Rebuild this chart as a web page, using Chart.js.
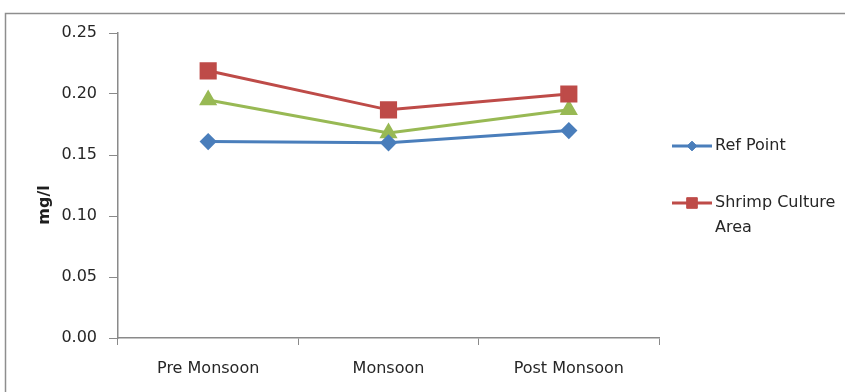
<!DOCTYPE html>
<html>
<head>
<meta charset="utf-8">
<script src="https://cdn.jsdelivr.net/npm/chart.js@4.4.1/dist/chart.umd.min.js"></script>
<style>
  html, body { margin: 0; padding: 0; background: #ffffff; }
  #wrap { position: relative; width: 845px; height: 392px; }
  canvas { display: block; }
</style>
</head>
<body>
<div id="wrap"><canvas id="chart" width="845" height="392"></canvas></div>
<script>
// Seasons on the category axis
const seasons = ['Pre Monsoon', 'Monsoon', 'Post Monsoon'];

// Concentrations (mg/l) per season
const refPoint = [0.161, 0.160, 0.170];
const shrimpCulture = [0.219, 0.187, 0.200];
const thirdSite = [0.195, 0.168, 0.187];

// Value axis ticks
const yTicks = [0.00, 0.05, 0.10, 0.15, 0.20, 0.25];

// Legend entries (label lines per series shown in the key)
const legendLines = [['Ref Point'], ['Shrimp Culture', 'Area']];

const FONT = 'DejaVu Sans';
const TXT = '#262626';
const AXIS = '#8a8a8a';

// Outer frame and rotated axis title
const framePlugin = {
  id: 'frame',
  beforeDraw(chart) {
    const ctx = chart.ctx;
    ctx.save();
    ctx.strokeStyle = '#8e8e8e';
    ctx.lineWidth = 1.5;
    ctx.beginPath();
    ctx.moveTo(845, 13.5);
    ctx.lineTo(5.5, 13.5);
    ctx.lineTo(5.5, 392);
    ctx.stroke();
    ctx.restore();
  },
  afterDraw(chart) {
    const ctx = chart.ctx;
    ctx.save();
    ctx.translate(45, 205);
    ctx.rotate(-Math.PI / 2);
    ctx.fillStyle = '#1e1e1e';
    ctx.font = 'bold 16px ' + FONT;
    ctx.textAlign = 'center';
    ctx.textBaseline = 'middle';
    ctx.fillText('mg/l', 0, 0);
    ctx.restore();
  }
};

// Key at the right with wrapped labels
const keyPlugin = {
  id: 'key',
  afterDraw(chart) {
    const ctx = chart.ctx;
    const rows = [146, 203];
    ctx.save();
    legendLines.forEach((lines, i) => {
      const ds = chart.data.datasets[i];
      const y = rows[i];
      ctx.strokeStyle = ds.borderColor;
      ctx.lineWidth = 3;
      ctx.beginPath();
      ctx.moveTo(672, y);
      ctx.lineTo(712, y);
      ctx.stroke();
      ctx.fillStyle = ds.backgroundColor;
      ctx.strokeStyle = ds.borderColor;
      ctx.lineWidth = 1;
      Chart.helpers.drawPoint(ctx, {
        pointStyle: ds.pointStyle,
        radius: ds.pointRadius * 0.75,
        borderWidth: 1
      }, 692, y);
      ctx.fillStyle = TXT;
      ctx.font = '16px ' + FONT;
      ctx.textAlign = 'left';
      ctx.textBaseline = 'middle';
      lines.forEach((t, j) => ctx.fillText(t, 715, y + j * 25));
    });
    ctx.restore();
  }
};

new Chart(document.getElementById('chart'), {
  type: 'line',
  data: {
    labels: seasons,
    datasets: [
      {
        label: 'Ref Point',
        data: refPoint,
        borderColor: '#4A7EBB',
        backgroundColor: '#4A7EBB',
        pointStyle: 'rectRot',
        pointRadius: 6.5,
        borderWidth: 3
      },
      {
        label: 'Shrimp Culture Area',
        data: shrimpCulture,
        borderColor: '#BE4B48',
        backgroundColor: '#BE4B48',
        pointStyle: 'rect',
        pointRadius: 10,
        borderWidth: 3
      },
      {
        label: 'Series3',
        data: thirdSite,
        borderColor: '#98B954',
        backgroundColor: '#98B954',
        pointStyle: 'triangle',
        pointRadius: 7.5,
        borderWidth: 3
      }
    ]
  },
  options: {
    responsive: false,
    animation: false,
    layout: { padding: { top: 33, right: 186, left: 0, bottom: 0 } },
    elements: {
      line: { tension: 0 },
      point: { borderWidth: 1, hoverRadius: 8 }
    },
    plugins: {
      legend: { display: false },
      tooltip: { enabled: false }
    },
    scales: {
      x: {
        type: 'category',
        offset: true,
        grid: {
          offset: true,
          drawOnChartArea: false,
          drawTicks: true,
          tickLength: 7,
          color: AXIS
        },
        border: { color: AXIS, width: 1.5 },
        ticks: {
          color: TXT,
          font: { family: FONT, size: 16 },
          padding: 14,
          maxRotation: 0
        },
        afterFit(scale) { scale.height = 54; }
      },
      y: {
        min: 0,
        max: 0.25,
        afterBuildTicks(scale) { scale.ticks = yTicks.map(v => ({ value: v })); },
        grid: {
          drawOnChartArea: false,
          drawTicks: true,
          tickLength: 9,
          color: AXIS
        },
        border: { color: AXIS, width: 1.5 },
        ticks: {
          color: TXT,
          font: { family: FONT, size: 16 },
          padding: 12,
          callback: v => Number(v).toFixed(2)
        },
        afterFit(scale) { scale.width = 118; }
      }
    }
  },
  plugins: [framePlugin, keyPlugin]
});
</script>
</body>
</html>
